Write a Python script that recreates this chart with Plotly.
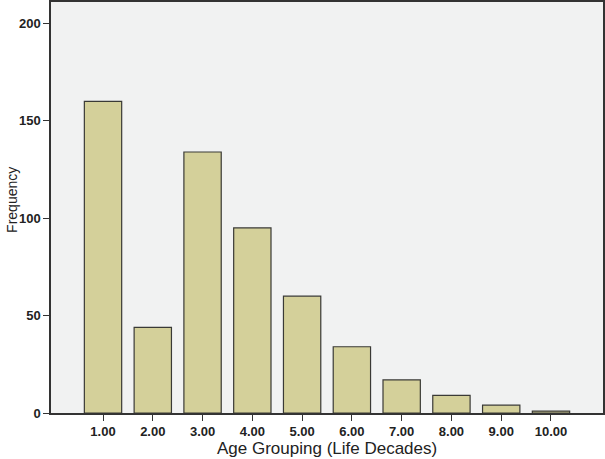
import plotly.graph_objects as go

# age decades and counts
decades = [1, 2, 3, 4, 5, 6, 7, 8, 9, 10]
decade_labels = ["1.00", "2.00", "3.00", "4.00", "5.00", "6.00", "7.00", "8.00", "9.00", "10.00"]
frequency = [160, 44, 134, 95, 60, 34, 17, 9, 4, 1]
y_ticks = [0, 50, 100, 150, 200]

fig = go.Figure(
    go.Bar(
        x=decades,
        y=frequency,
        width=0.75,
        marker=dict(color="#d4d09a", line=dict(color="#3a3a36", width=1.2)),
    )
)

fig.update_layout(
    width=605,
    height=459,
    margin=dict(l=51, r=2, t=2, b=46),
    paper_bgcolor="white",
    plot_bgcolor="#f1f2f2",
    font=dict(family="Liberation Sans, Arial, sans-serif", color="#222"),
    showlegend=False,
)

fig.update_xaxes(
    range=[1 - 1.045, 10 + 1.045],
    tickvals=decades,
    ticktext=[f"<b>{t}</b>" for t in decade_labels],
    tickfont=dict(size=13),
    ticks="outside",
    ticklen=6,
    tickcolor="#333",
    showline=True,
    linecolor="#333",
    linewidth=1.5,
    mirror=True,
    showgrid=False,
    zeroline=False,
    automargin=False,
)

fig.update_yaxes(
    range=[0, 211],
    tickvals=y_ticks,
    ticktext=[f"<b>{v}</b>" for v in y_ticks],
    tickfont=dict(size=13),
    ticks="outside",
    ticklen=6,
    tickcolor="#333",
    showline=True,
    linecolor="#333",
    linewidth=1.5,
    mirror=True,
    showgrid=False,
    zeroline=False,
    automargin=False,
)

# axis titles as annotations so the margins stay fixed
fig.add_annotation(
    text="Age Grouping (Life Decades)", xref="paper", yref="paper",
    x=0.5, y=-0.087, yanchor="middle", showarrow=False, font=dict(size=17),
)
fig.add_annotation(
    text="Frequency", xref="paper", yref="paper", textangle=-90,
    x=-0.071, y=0.518, xanchor="center", showarrow=False, font=dict(size=14),
)

# drop the default body margin so the figure fills the window exactly
fig.write_html(
    "out.html",
    config={"displayModeBar": False},
    post_script="document.body.style.margin='0';",
)
